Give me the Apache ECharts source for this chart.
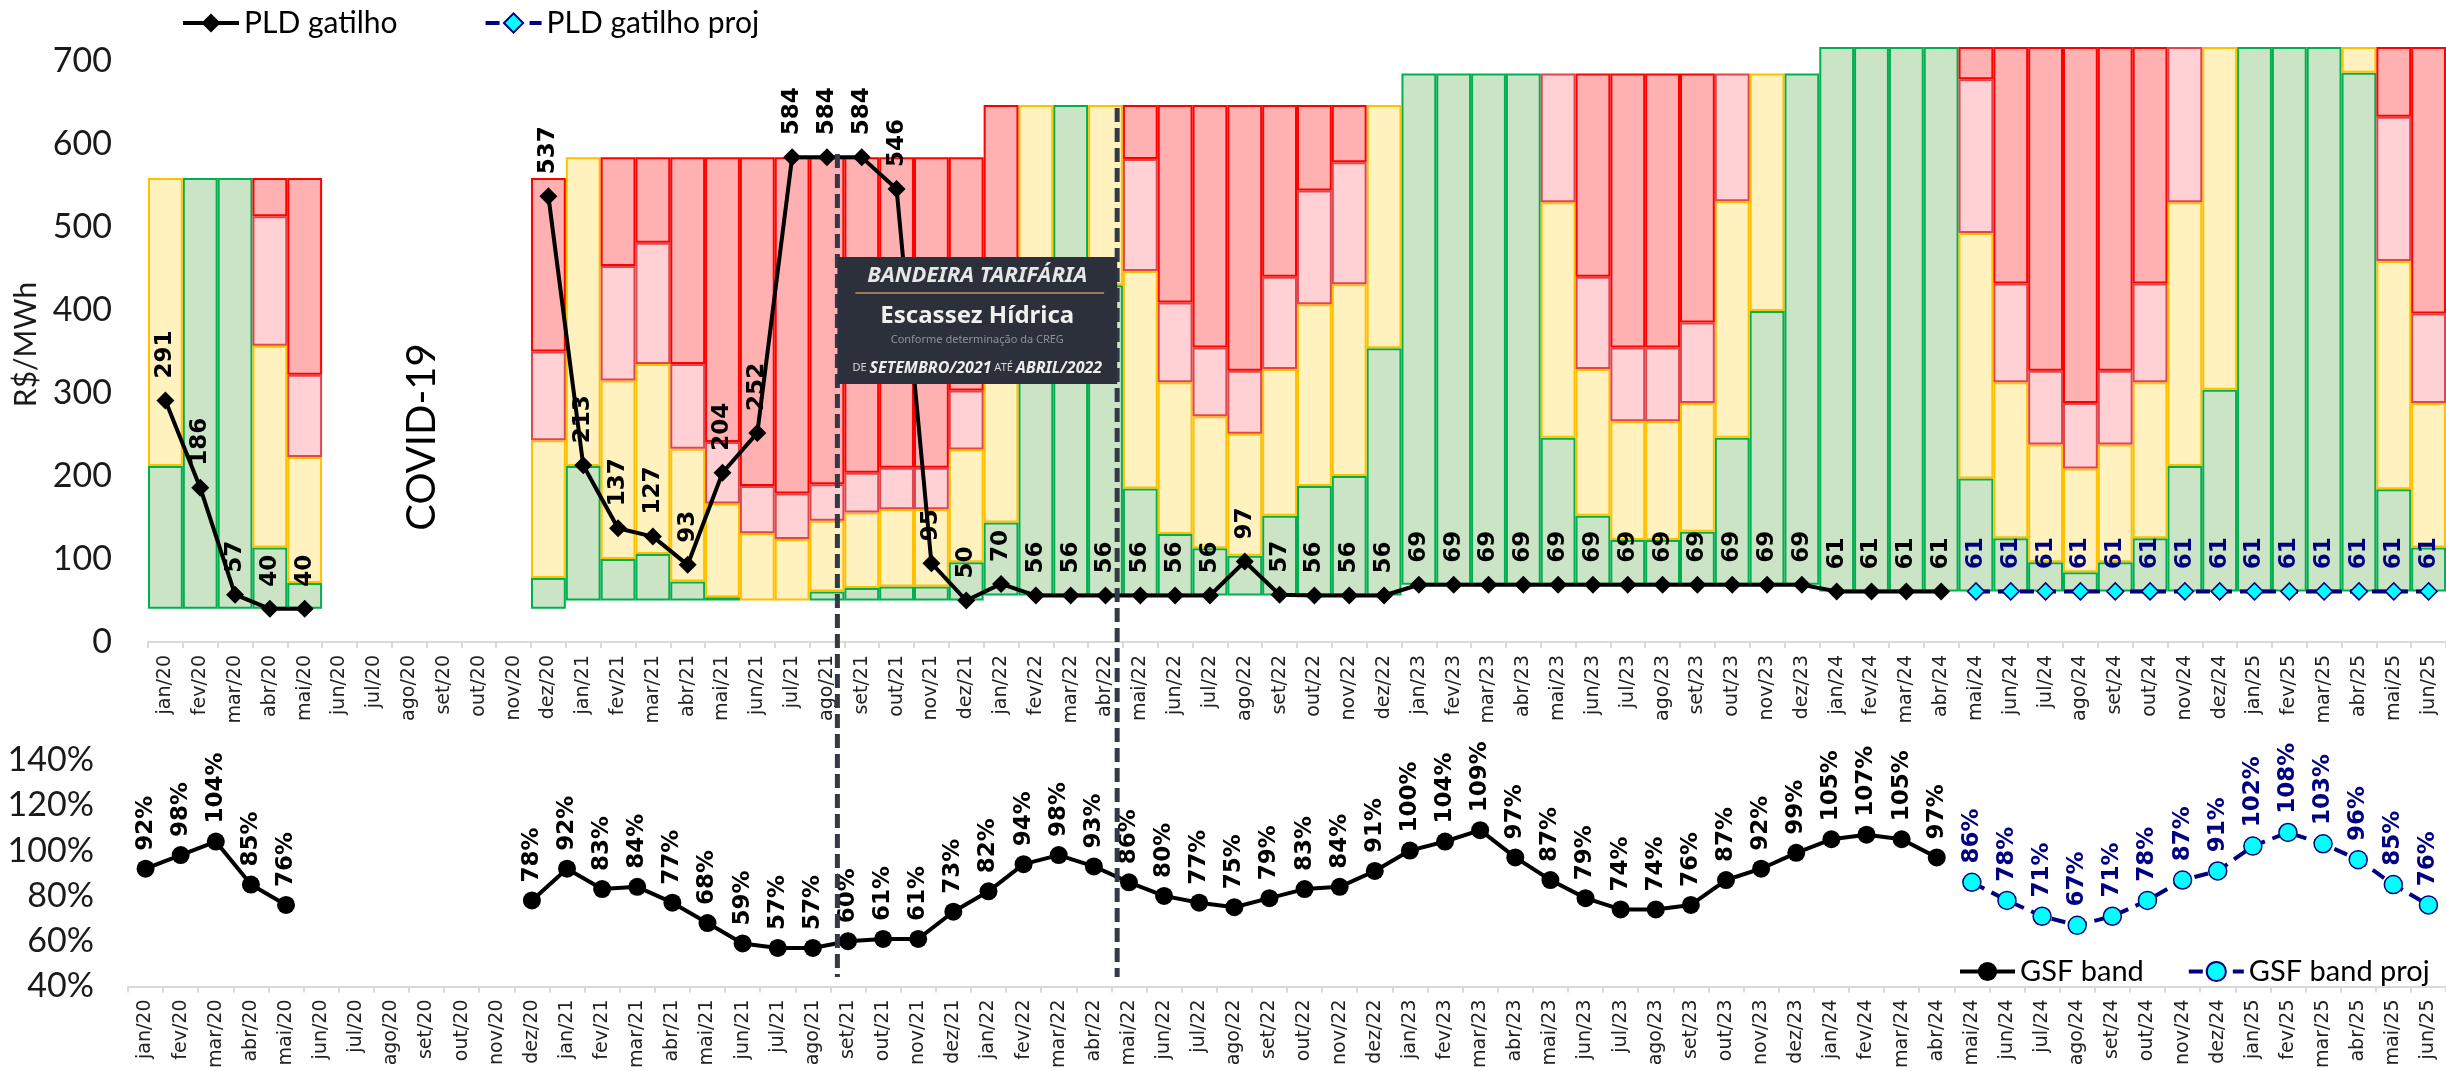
<!DOCTYPE html>
<html>
<head>
<meta charset="utf-8">
<script src="https://cdn.jsdelivr.net/npm/echarts@6.0.0/dist/echarts.min.js"></script>
<style>
html,body{margin:0;padding:0;background:#fff;}
#chart{width:2446px;height:1071px;}
</style>
</head>
<body>
<div id="chart"></div>
<script>
//meses (eixo x das duas grades)
var meses = ['jan/20','fev/20','mar/20','abr/20','mai/20','jun/20','jul/20','ago/20','set/20','out/20','nov/20','dez/20',
    'jan/21','fev/21','mar/21','abr/21','mai/21','jun/21','jul/21','ago/21','set/21','out/21','nov/21','dez/21',
    'jan/22','fev/22','mar/22','abr/22','mai/22','jun/22','jul/22','ago/22','set/22','out/22','nov/22','dez/22',
    'jan/23','fev/23','mar/23','abr/23','mai/23','jun/23','jul/23','ago/23','set/23','out/23','nov/23','dez/23',
    'jan/24','fev/24','mar/24','abr/24','mai/24','jun/24','jul/24','ago/24','set/24','out/24','nov/24','dez/24',
    'jan/25','fev/25','mar/25','abr/25','mai/25','jun/25'];

//faixas de PLD por bandeira (limites superiores de cada cor, R$/MWh)
var piso = [40,40,40,40,40,null,null,null,null,null,null,40,
    50,50,50,50,50,50,50,50,50,50,50,50,
    56,56,56,56,56,56,56,56,56,56,56,56,
    69,69,69,69,69,69,69,69,69,69,69,69,
    61,61,61,61,61,61,61,61,61,61,61,61,
    61,61,61,61,61,61];
var limVerde = [212,559,559,114,71,null,null,null,null,null,null,77,
    212,100,106,73,54,50,50,61,65,67,67,96,
    144,420,647,430,185,130,113,104,152,188,200,354,
    685,685,685,685,246,152,123,123,133,246,399,685,
    717,717,717,717,197,125,96,84,96,125,212,304,
    717,717,717,686,184,114];
var limAmarelo = [559,559,559,357,223,null,null,null,null,null,null,243,
    584,315,335,233,167,131,124,146,156,160,160,232,
    330,647,647,647,447,313,272,251,329,407,431,647,
    685,685,685,685,530,329,266,266,288,531,685,685,
    717,717,717,717,493,313,238,209,238,313,530,717,
    717,717,717,717,459,288];
var limRosa = [559,559,559,513,322,null,null,null,null,null,null,350,
    584,453,481,335,241,188,179,190,204,210,210,303,
    430,647,647,647,582,409,355,327,440,544,578,647,
    685,685,685,685,685,440,355,355,385,685,685,685,
    717,717,717,717,678,432,327,288,327,432,717,717,
    717,717,717,717,633,396];
var teto = [559,559,559,559,559,null,null,null,null,null,null,559,
    584,584,584,584,584,584,584,584,584,584,584,584,
    647,647,647,647,647,647,647,647,647,647,647,647,
    685,685,685,685,685,685,685,685,685,685,685,685,
    717,717,717,717,717,717,717,717,717,717,717,717,
    717,717,717,717,717,717];

//PLD gatilho
var pldGatilho = [291,186,57,40,40,null,null,null,null,null,null,537,
    213,137,127,93,204,252,584,584,584,546,95,50,
    70,56,56,56,56,56,56,97,57,56,56,56,
    69,69,69,69,69,69,69,69,69,69,69,69,
    61,61,61,61,null,null,null,null,null,null,null,null,
    null,null,null,null,null,null];
var pldGatilhoProj = [null,null,null,null,null,null,null,null,null,null,null,null,
    null,null,null,null,null,null,null,null,null,null,null,null,
    null,null,null,null,null,null,null,null,null,null,null,null,
    null,null,null,null,null,null,null,null,null,null,null,null,
    null,null,null,null,61,61,61,61,61,61,61,61,
    61,61,61,61,61,61];

//GSF (%)
var gsfBand = [92,98,104,85,76,null,null,null,null,null,null,78,
    92,83,84,77,68,59,57,57,60,61,61,73,
    82,94,98,93,86,80,77,75,79,83,84,91,
    100,104,109,97,87,79,74,74,76,87,92,99,
    105,107,105,97,null,null,null,null,null,null,null,null,
    null,null,null,null,null,null];
var gsfBandProj = [null,null,null,null,null,null,null,null,null,null,null,null,
    null,null,null,null,null,null,null,null,null,null,null,null,
    null,null,null,null,null,null,null,null,null,null,null,null,
    null,null,null,null,null,null,null,null,null,null,null,null,
    null,null,null,null,86,78,71,67,71,78,87,91,
    102,108,103,96,85,76];

var periodoBandeira = ['set/21', 'mai/22'];

//altura de cada segmento empilhado
function faixa(baixo, alto) {
    return alto.map(function (v, i) {
        if (v == null || baixo[i] == null) return '-';
        var d = v - baixo[i];
        return d > 0 ? d : '-';
    });
}

function barra(nome, dados, cor, borda) {
    return {
        name: nome,
        type: 'bar',
        stack: 'faixa',
        xAxisIndex: 0,
        yAxisIndex: 0,
        barCategoryGap: '0%',
        silent: true,
        data: dados,
        itemStyle: {color: cor, borderColor: borda, borderWidth: borda ? 2 : 0},
        z: 1
    };
}

var fonteRotulo = {
    show: true,
    position: 'top',
    rotate: 90,
    align: 'left',
    verticalAlign: 'middle',
    fontFamily: 'DejaVu Sans',
    fontWeight: 'bold',
    fontSize: 23
};

var eixoX = {
    type: 'category',
    data: meses,
    boundaryGap: true,
    axisLine: {lineStyle: {color: '#d9d9d9', width: 2}},
    axisTick: {show: true, length: 6, lineStyle: {color: '#d9d9d9', width: 2}},
    axisLabel: {interval: 0, rotate: 90, margin: 13, fontFamily: 'DejaVu Sans', fontSize: 19, color: '#222'}
};

var chart = echarts.init(document.getElementById('chart'));
var option = {
    animation: false,
    backgroundColor: '#fff',
    legend: [
        {
            data: ['PLD gatilho', 'PLD gatilho proj'],
            left: 176, top: 3,
            itemWidth: 56, itemHeight: 24, itemGap: 86,
            lineStyle: {width: 4},
            textStyle: {fontFamily: 'Lato', fontSize: 30, color: '#000'}
        },
        {
            data: ['GSF band', 'GSF band proj'],
            left: 1953, top: 952,
            itemWidth: 55, itemHeight: 24, itemGap: 43,
            lineStyle: {width: 4},
            textStyle: {fontFamily: 'Lato', fontSize: 29, color: '#000'}
        }
    ],
    grid: [
        {left: 148, top: 47, width: 2299, height: 595},
        {left: 128, top: 760, width: 2319, height: 231}
    ],
    xAxis: [
        echarts.util.merge({gridIndex: 0}, eixoX),
        echarts.util.merge({gridIndex: 1}, eixoX)
    ],
    yAxis: [
        {
            gridIndex: 0, type: 'value', min: 0, max: 717, interval: 100,
            name: 'R$/MWh', nameLocation: 'middle', nameGap: 107,
            nameTextStyle: {fontFamily: 'Lato', fontSize: 30, color: '#1a1a1a'},
            axisLine: {show: false}, axisTick: {show: false}, splitLine: {show: false},
            axisLabel: {margin: 36, fontFamily: 'Lato', fontSize: 34, color: '#1a1a1a', showMaxLabel: false}
        },
        {
            gridIndex: 1, type: 'value', min: 40, max: 140, interval: 20,
            axisLine: {show: false}, axisTick: {show: false}, splitLine: {show: false},
            axisLabel: {margin: 34, fontFamily: 'Lato', fontSize: 34, color: '#1a1a1a', formatter: '{value}%'}
        }
    ],
    series: [
        barra('piso', piso.map(function (v) { return v == null ? '-' : v; }), 'rgba(0,0,0,0)', null),
        barra('verde', faixa(piso, limVerde), '#CBE4C5', '#00B050'),
        barra('amarela', faixa(limVerde, limAmarelo), '#FFF2BF', '#FFC000'),
        barra('vermelha 1', faixa(limAmarelo, limRosa), '#FFD1D4', '#E0474C'),
        barra('vermelha 2', faixa(limRosa, teto), '#FFB0B0', '#FF0000'),
        {
            name: 'PLD gatilho', type: 'line', xAxisIndex: 0, yAxisIndex: 0,
            data: pldGatilho, symbol: 'diamond', symbolSize: 18,
            lineStyle: {color: '#000', width: 4},
            itemStyle: {color: '#000'},
            label: echarts.util.merge({distance: 13, color: '#000'}, fonteRotulo),
            z: 5
        },
        {
            name: 'PLD gatilho proj', type: 'line', xAxisIndex: 0, yAxisIndex: 0,
            data: pldGatilhoProj, symbol: 'diamond', symbolSize: 17,
            lineStyle: {color: '#000080', width: 4, type: [14, 8]},
            itemStyle: {color: '#00FFFF', borderColor: '#000080', borderWidth: 1.5},
            label: echarts.util.merge({distance: 13, color: '#000080'}, fonteRotulo),
            z: 5
        },
        {
            name: 'GSF band', type: 'line', xAxisIndex: 1, yAxisIndex: 1,
            data: gsfBand, symbol: 'circle', symbolSize: 18,
            lineStyle: {color: '#000', width: 4},
            itemStyle: {color: '#000'},
            label: echarts.util.merge({distance: 9, color: '#000', formatter: '{c}%'}, fonteRotulo),
            z: 5
        },
        {
            name: 'GSF band proj', type: 'line', xAxisIndex: 1, yAxisIndex: 1,
            data: gsfBandProj, symbol: 'circle', symbolSize: 18,
            lineStyle: {color: '#000080', width: 4, type: [14, 8]},
            itemStyle: {color: '#00FFFF', borderColor: '#000080', borderWidth: 1.5},
            label: echarts.util.merge({distance: 9, color: '#000080', formatter: '{c}%'}, fonteRotulo),
            z: 5
        }
    ]
};
chart.setOption(option);

//divisa entre dois meses, media das duas grades
function divisa(mes) {
    var i = meses.indexOf(mes);
    var soma = 0;
    [0, 1].forEach(function (ax) {
        soma += chart.convertToPixel({xAxisIndex: ax}, meses[i - 1]);
        soma += chart.convertToPixel({xAxisIndex: ax}, meses[i]);
    });
    return soma / 4;
}

var x1 = divisa(periodoBandeira[0]);
var x2 = divisa(periodoBandeira[1]);
var cx = (x1 + x2) / 2;
var tracejado = {stroke: '#333A45', lineWidth: 5, lineDash: [14, 6]};

chart.setOption({
    graphic: [
        {
            type: 'text', x: 422, y: 437, rotation: Math.PI / 2, z: 3,
            style: {text: 'COVID-19', font: '40px Lato', fill: '#000', align: 'center', verticalAlign: 'middle'}
        },
        {type: 'line', z: 8, shape: {x1: x1, y1: 154, x2: x1, y2: 977}, style: tracejado},
        {type: 'line', z: 8, shape: {x1: x2, y1: 108, x2: x2, y2: 977}, style: tracejado},
        //quadro da bandeira escassez hidrica
        {type: 'rect', z: 10, shape: {x: x1, y: 257, width: x2 - x1, height: 127}, style: {fill: '#2C303A'}},
        {type: 'text', z: 11, x: cx, y: 276, style: {text: 'BANDEIRA TARIFÁRIA', font: 'italic bold 22px "Noto Sans"', fill: '#e6e6e6', align: 'center', verticalAlign: 'middle'}},
        {type: 'line', z: 11, shape: {x1: x1 + 18, y1: 293, x2: x2 - 13, y2: 293}, style: {stroke: '#9c7a5c', lineWidth: 2}},
        {type: 'text', z: 11, x: cx, y: 316, style: {text: 'Escassez Hídrica', font: 'bold 24px "Noto Sans"', fill: '#f0f0f0', align: 'center', verticalAlign: 'middle'}},
        {type: 'text', z: 11, x: cx, y: 340, style: {text: 'Conforme determinação da CREG', font: '11px "Noto Sans"', fill: '#8c929c', align: 'center', verticalAlign: 'middle'}},
        {
            type: 'text', z: 11, x: cx, y: 368,
            style: {
                text: '{p|DE }{g|SETEMBRO/2021}{p| ATÉ }{g|ABRIL/2022}',
                align: 'center', verticalAlign: 'middle',
                rich: {
                    p: {fontFamily: 'Noto Sans', fontSize: 11, fill: '#d8d8d8'},
                    g: {fontFamily: 'Noto Sans', fontSize: 16, fontWeight: 'bold', fontStyle: 'italic', fill: '#eeeeee'}
                }
            }
        }
    ]
});
</script>
</body>
</html>
